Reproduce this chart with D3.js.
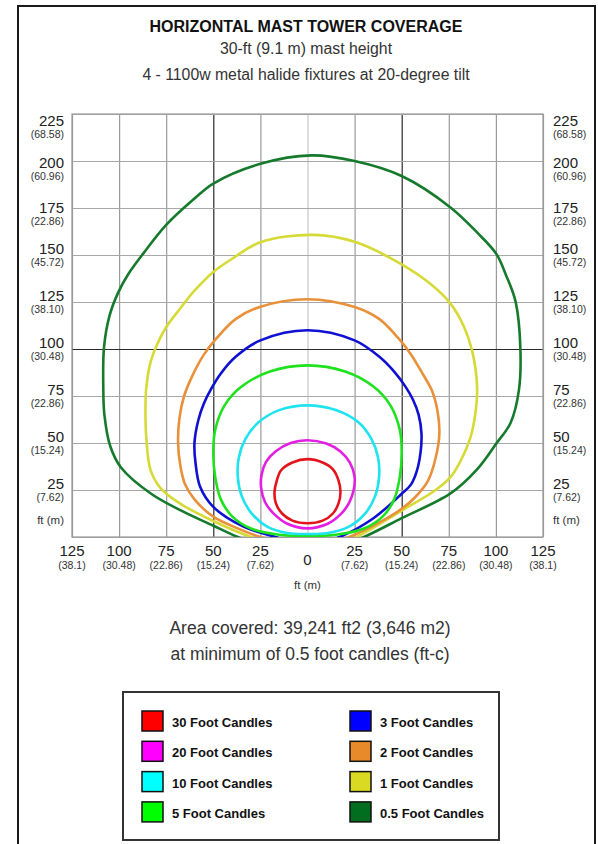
<!DOCTYPE html>
<html>
<head>
<meta charset="utf-8">
<script src="https://cdn.jsdelivr.net/npm/d3@7/dist/d3.min.js"></script>
<style>
  html, body { margin: 0; padding: 0; background: #fff; }
  svg { display: block; }
  text { font-family: "Liberation Sans", Arial, Helvetica, sans-serif; }
</style>
</head>
<body>
<svg id="chart" width="598" height="844"></svg>
<script>
// ---------------- DATA ----------------
const titleText = "HORIZONTAL MAST TOWER COVERAGE";
const subtitleLines = ["30-ft (9.1 m) mast height", "4 - 1100w metal halide fixtures at 20-degree tilt"];
const noteLines = ["Area covered: 39,241 ft2 (3,646 m2)", "at minimum of 0.5 foot candles (ft-c)"];

const yTickValues = [25, 50, 75, 100, 125, 150, 175, 200, 225];
const yTickMetric = ["(7.62)", "(15.24)", "(22.86)", "(30.48)", "(38.10)", "(45.72)", "(22.86)", "(60.96)", "(68.58)"];
const xTickValues = [-125, -100, -75, -50, -25, 0, 25, 50, 75, 100, 125];
const xTickLabels = ["125", "100", "75", "50", "25", "0", "25", "50", "75", "100", "125"];
const xTickMetric = ["(38.1)", "(30.48)", "(22.86)", "(15.24)", "(7.62)", "", "(7.62)", "(15.24)", "(22.86)", "(30.48)", "(38.1)"];
const unitLabel = "ft (m)";

const levels = ["30 Foot Candles", "20 Foot Candles", "10 Foot Candles", "5 Foot Candles",
                "3 Foot Candles", "2 Foot Candles", "1 Foot Candles", "0.5 Foot Candles"];
const lineColors = ["#e4141c", "#e21fe2", "#1fe3ef", "#1ee21e", "#1010d2", "#e8903a", "#d6da36", "#157a2c"];
const swatchColors = ["#ff0000", "#ff00ff", "#00ffff", "#00ff00", "#0000ff", "#e8892a", "#dada22", "#006e1e"];

// contour outlines, [x ft, y ft]
const fc30 = [[0,41.4],[8,39.6],[13.5,36],[16.5,30],[17.5,24],[16.5,18],[13.5,12.5],[8,8.7],[0,7.3],[-8,8.7],[-13.5,12.5],[-16.8,18],[-17.5,24],[-16.3,30],[-14,35.5],[-8,39.6]];
const fc20 = [[0,51.5],[10,49.7],[17.5,45.5],[22.5,39.5],[25,32],[24.5,25],[22,18],[17.5,12],[11,7.2],[0,4.6],[-11,7.2],[-17.5,12],[-22.5,18.5],[-24.6,26],[-24.4,33],[-22,40],[-17,45.5],[-9,50]];
const fc10 = [[0,70],[15,67.5],[27,61],[34,52],[37.5,42],[38,32],[36,22],[31,13],[22,5.5],[10,2],[0,1.6],[-10,2],[-21.4,5.5],[-30,13],[-35,22],[-37,32],[-36.5,42],[-33,52],[-26,61],[-15,67.5]];
const fc5 = [[0,91.3],[20,88],[35,80],[44,70],[49,57],[50,45],[49,32],[46,20],[40,11],[30,4.5],[15,1.2],[0,0.5],[-15,1.2],[-30,4.5],[-40,11],[-46,20],[-49,32],[-50,45],[-49,57],[-44,70],[-35,80],[-20,88]];
const fc3 = [[0,110],[25,104.6],[38,96],[46,88],[52,80],[56,73],[59,65],[60.5,55],[60,45],[58,35],[55,28],[50,23],[35,10],[17,0],[0,-5],[-17,0],[-34,5.5],[-50,16],[-57,26.7],[-59.5,40],[-60,50],[-58,62],[-55,71],[-51,79],[-46,87],[-38,96],[-25,104.6]];
const fc2 = [[0,126.5],[25,122.3],[38,116],[48,106],[55,97],[61,87],[66,78],[69,67],[70,55],[68,42],[64,30],[57,21],[50,15],[35,6],[22,0],[0,-6],[-25,0],[-38,5],[-50,10.8],[-60,20],[-65,28],[-67.5,38],[-68.7,50],[-68,63],[-65.5,75],[-61,86],[-55,97],[-48,106],[-38,116],[-25,122.5]];
const fc1 = [[3,160.7],[25,157],[50,145],[66,134],[76,124],[83,112],[87.4,99],[90,80],[89,65],[86.5,53],[81,40],[76,32],[68,25],[50,14],[26,0],[10,-6],[-10,-6],[-30,0],[-50,8.5],[-68,18],[-78,26],[-83.3,35.6],[-85.5,52],[-86,70],[-85.5,80],[-83.3,93],[-80,102],[-75,111.7],[-68,121],[-60,131],[-50,141],[-40,148],[-25,156.8]];
const fc05 = [[2,203],[25,200],[50,192],[75.9,175.3],[90,162],[100.2,150.6],[105.5,139],[110.5,125],[113,100],[112.2,78],[107.7,60.5],[100.2,49.7],[90,36],[75.9,23.2],[50,10],[30,0],[15,-6],[0,-8],[-20,-6],[-37,0],[-50,6],[-67,14],[-83,23],[-99,37],[-104.6,48],[-107.8,65],[-108.4,80],[-108,101],[-105,118],[-100.5,130],[-95,140],[-87,151],[-75,166],[-60,180],[-50,188],[-25,198.5]];
const contours = [fc30, fc20, fc10, fc5, fc3, fc2, fc1, fc05];

// ---------------- DRAW ----------------
const svg = d3.select("#chart");

// outer frame
svg.append("rect").attr("x", 18).attr("y", 6).attr("width", 577).attr("height", 860)
  .attr("fill", "none").attr("stroke", "#1a1a1a").attr("stroke-width", 2);

// titles
svg.append("text").attr("x", 306).attr("y", 32).attr("text-anchor", "middle")
  .attr("font-size", 16).attr("font-weight", "bold").attr("fill", "#111").text(titleText);
svg.selectAll("text.sub").data(subtitleLines).join("text").attr("class", "sub")
  .attr("x", 306).attr("y", (d, i) => 54 + i * 26).attr("text-anchor", "middle")
  .attr("font-size", 15.8).attr("fill", "#333").text(d => d);

const x = d3.scaleLinear().domain([-125, 125]).range([72, 543]);
const y = d3.scaleLinear().domain([0, 225]).range([537, 114]);
const W = x(125) - x(-125), H = y(0) - y(225);

// grid via axes
const gx = svg.append("g").attr("transform", `translate(0,${y(0)})`)
  .call(d3.axisBottom(x).tickValues(xTickValues).tickSize(-H).tickFormat(""));
gx.select(".domain").remove();
gx.selectAll(".tick line")
  .attr("stroke", d => d === 0 ? "#c8c8c8" : (Math.abs(d) === 50 ? "#2a2a2a" : "#9a9a9a"))
  .attr("stroke-width", 1.2);

const gy = svg.append("g").attr("transform", `translate(${x(-125)},0)`)
  .call(d3.axisLeft(y).tickValues([0].concat(yTickValues)).tickSize(-W).tickFormat(""));
gy.select(".domain").remove();
gy.selectAll(".tick line")
  .attr("stroke", d => d === 100 ? "#2a2a2a" : "#a8a8a8")
  .attr("stroke-width", 1.2);

// plot border
svg.append("rect").attr("x", x(-125)).attr("y", y(225)).attr("width", W).attr("height", H)
  .attr("fill", "none").attr("stroke", "#9a9a9a").attr("stroke-width", 1.2);

// contours
svg.append("clipPath").attr("id", "plotclip").append("rect")
  .attr("x", x(-125)).attr("y", y(225)).attr("width", W).attr("height", H);
const line = d3.line().x(d => x(d[0])).y(d => y(d[1])).curve(d3.curveCatmullRomClosed.alpha(0.5));
svg.append("g").attr("clip-path", "url(#plotclip)")
  .selectAll("path").data(contours.slice().reverse()).join("path")
  .attr("d", d => line(d)).attr("fill", "none")
  .attr("stroke", (d, i) => lineColors[contours.length - 1 - i])
  .attr("stroke-width", 2.6).attr("stroke-linejoin", "round");

// y labels (both sides)
const nudge = v => v === 225 ? 13 : v === 200 ? 8 : v === 175 ? 6 : 0;
yTickValues.forEach((v, i) => {
  const by = y(v) - 1 + nudge(v);
  [[64, "end"], [553, "start"]].forEach(([lx, anchor]) => {
    svg.append("text").attr("x", lx).attr("y", by).attr("text-anchor", anchor)
      .attr("font-size", 15).attr("fill", "#222").text(v);
    svg.append("text").attr("x", lx).attr("y", by + 11.5).attr("text-anchor", anchor)
      .attr("font-size", 10.5).attr("fill", "#333").text(yTickMetric[i]);
  });
});
[[64, "end"], [553, "start"]].forEach(([lx, anchor]) => {
  svg.append("text").attr("x", lx).attr("y", y(0) - 13).attr("text-anchor", anchor)
    .attr("font-size", 11.5).attr("fill", "#333").text(unitLabel);
});

// x labels
xTickValues.forEach((v, i) => {
  if (v === 0) {
    svg.append("text").attr("x", x(v)).attr("y", 565).attr("text-anchor", "middle")
      .attr("font-size", 15).attr("fill", "#222").text(xTickLabels[i]);
  } else {
    svg.append("text").attr("x", x(v)).attr("y", 556).attr("text-anchor", "middle")
      .attr("font-size", 15).attr("fill", "#222").text(xTickLabels[i]);
    svg.append("text").attr("x", x(v)).attr("y", 568.5).attr("text-anchor", "middle")
      .attr("font-size", 10.5).attr("fill", "#333").text(xTickMetric[i]);
  }
});
svg.append("text").attr("x", x(0)).attr("y", 589).attr("text-anchor", "middle")
  .attr("font-size", 11.5).attr("fill", "#333").text(unitLabel);

// notes
svg.selectAll("text.note").data(noteLines).join("text").attr("class", "note")
  .attr("x", 310).attr("y", (d, i) => 634 + i * 26).attr("text-anchor", "middle")
  .attr("font-size", 17.5).attr("fill", "#333").text(d => d);

// legend
svg.append("rect").attr("x", 123).attr("y", 692).attr("width", 376).attr("height", 148)
  .attr("fill", "none").attr("stroke", "#333").attr("stroke-width", 2);
const lg = svg.append("g").selectAll("g").data(levels).join("g")
  .attr("transform", (d, i) => `translate(${i < 4 ? 142 : 350},${711 + (i % 4) * 30.3})`);
lg.append("rect").attr("width", 21).attr("height", 20)
  .attr("fill", (d, i) => swatchColors[i]).attr("stroke", "#111").attr("stroke-width", 1.5);
lg.append("text").attr("x", 30).attr("y", 16).attr("font-size", 13).attr("font-weight", "bold")
  .attr("fill", "#111").text(d => d);
</script>
</body>
</html>
